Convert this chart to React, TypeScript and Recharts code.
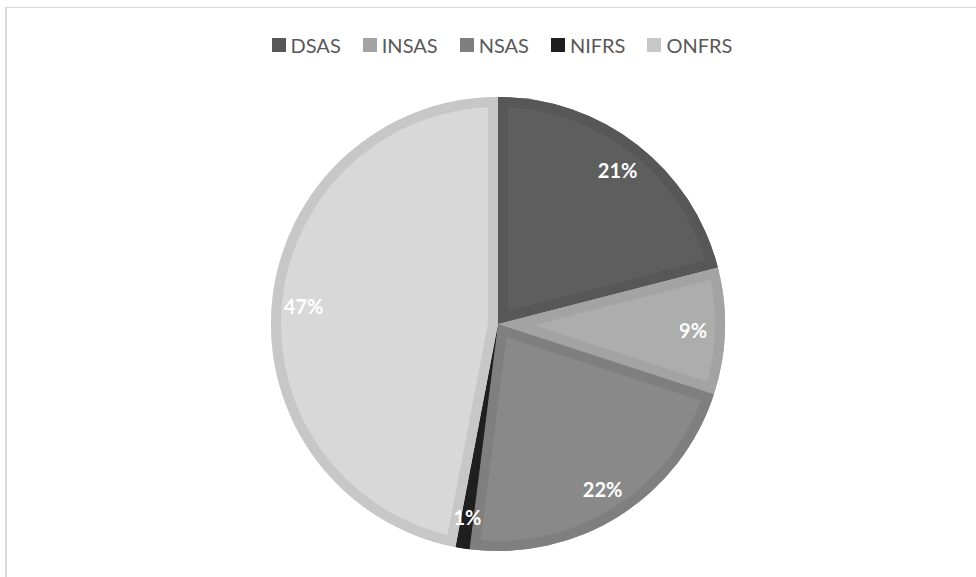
import { PieChart, Pie, Cell, Sector, Legend } from 'recharts';

// slices, clockwise from 12 o'clock
const categories = ['DSAS', 'INSAS', 'NSAS', 'NIFRS', 'ONFRS'];
const shares = [21, 9, 22, 1, 47];

const fillColors = ['#5e5e5e', '#adadad', '#898989', '#262626', '#d8d8d8'];
const edgeColors = ['#575757', '#a3a3a3', '#7f7f7f', '#1f1f1f', '#c7c7c7'];

const data = categories.map((name, i) => ({ name, value: shares[i] }));

const RAD = Math.PI / 180;
const CX = 498;
const CY = 324;
const R = 227;

// inner border: a wide stroke clipped to its own sector
const renderEdge = (props: any) => {
  const { cx, cy, startAngle, endAngle, outerRadius, index } = props;
  const id = `slice-clip-${index}`;
  return (
    <g>
      <defs>
        <clipPath id={id}>
          <Sector cx={cx} cy={cy} innerRadius={0} outerRadius={outerRadius} startAngle={startAngle} endAngle={endAngle} />
        </clipPath>
      </defs>
      <g clipPath={`url(#${id})`}>
        <Sector
          cx={cx}
          cy={cy}
          innerRadius={0}
          outerRadius={outerRadius}
          startAngle={startAngle}
          endAngle={endAngle}
          fill="none"
          stroke={edgeColors[index]}
          strokeWidth={20}
        />
      </g>
    </g>
  );
};

const renderPct = (props: any) => {
  const { cx, cy, midAngle, outerRadius, percent } = props;
  const a = midAngle * RAD;
  const r = outerRadius * 0.86;
  return (
    <text
      x={cx + r * Math.cos(a)}
      y={cy - r * Math.sin(a)}
      fill="#ffffff"
      textAnchor="middle"
      dominantBaseline="central"
      style={{ fontFamily: 'Lato, sans-serif', fontWeight: 700, fontSize: 20 }}
    >
      {`${Math.round(percent * 100)}%`}
    </text>
  );
};

const LegendRow = () => (
  <div
    style={{
      display: 'flex',
      justifyContent: 'center',
      alignItems: 'center',
      marginLeft: 28,
      fontFamily: 'Lato, sans-serif',
      fontSize: 20,
      color: '#595959',
      lineHeight: '22px',
    }}
  >
    {categories.map((c, i) => (
      <div key={c} style={{ display: 'flex', alignItems: 'center', marginRight: i < categories.length - 1 ? 22 : 0 }}>
        <span style={{ width: 14, height: 14, background: edgeColors[i], marginRight: 5, display: 'inline-block' }} />
        <span>{c}</span>
      </div>
    ))}
  </div>
);

export default function App() {
  return (
    <div style={{ position: 'absolute', left: 0, top: 0, width: 976, height: 577, overflow: 'hidden', background: '#fff' }}>
      <div
        style={{
          position: 'absolute',
          left: 5,
          top: 7,
          width: 1000,
          height: 600,
          borderTop: '1px solid #d9d9d9',
          borderLeft: '2px solid #d9d9d9',
        }}
      />
      <div style={{ position: 'absolute', left: 0, top: 0 }}>
        <PieChart width={976} height={577} margin={{ top: 0, right: 0, bottom: 0, left: 0 }}>
          <Legend content={<LegendRow />} wrapperStyle={{ top: 34, left: 0, width: 976 }} />
          <Pie
            data={data}
            dataKey="value"
            nameKey="name"
            cx={CX}
            cy={CY}
            outerRadius={R}
            startAngle={90}
            endAngle={-270}
            stroke="none"
            label={renderEdge}
            labelLine={false}
            isAnimationActive={false}
          >
            {data.map((d, i) => (
              <Cell key={d.name} fill={fillColors[i]} />
            ))}
          </Pie>
          <Pie
            data={data}
            dataKey="value"
            nameKey="name"
            cx={CX}
            cy={CY}
            outerRadius={R}
            startAngle={90}
            endAngle={-270}
            fill="none"
            stroke="none"
            label={renderPct}
            labelLine={false}
            legendType="none"
            isAnimationActive={false}
          />
        </PieChart>
      </div>
    </div>
  );
}
